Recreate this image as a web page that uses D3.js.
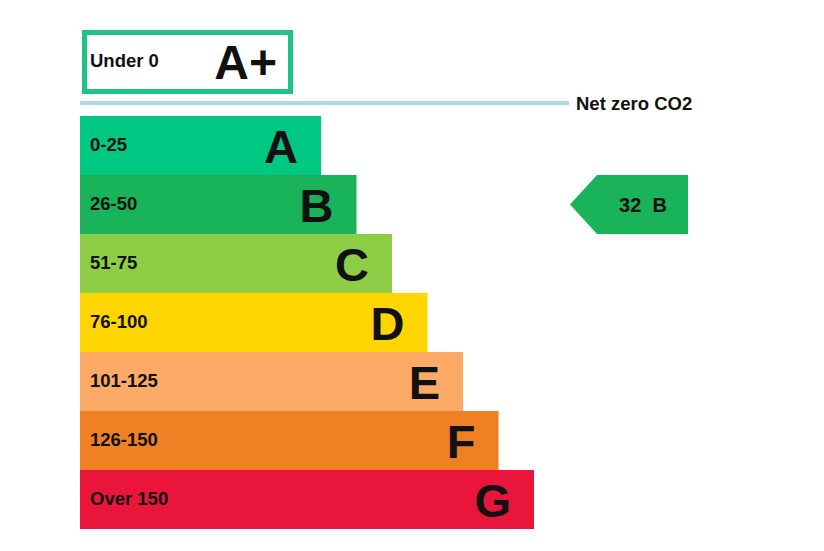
<!DOCTYPE html>
<html>
<head>
<meta charset="utf-8">
<script src="https://cdn.jsdelivr.net/npm/d3@7"></script>
<style>
  body { margin: 0; background: #fff; }
  text { font-family: "Liberation Sans", Arial, sans-serif; font-weight: bold; fill: #111; }
</style>
</head>
<body>
<div id="chart"></div>
<script>
const bands = ["A", "B", "C", "D", "E", "F", "G"];
const ranges = ["0-25", "26-50", "51-75", "76-100", "101-125", "126-150", "Over 150"];
const upper = [25, 50, 75, 100, 125, 150, 175];
const colors = ["#00c781", "#19b459", "#8dce46", "#ffd500", "#fcaa65", "#ef8023", "#e9153b"];
const current = { score: 32, band: "B" };
const netZero = { label: "Under 0", band: "A+", note: "Net zero CO2" };

const width = 824, height = 551;
const left = 80;

const svg = d3.select("#chart").append("svg")
  .attr("width", width)
  .attr("height", height);

const y = d3.scaleBand().domain(bands).range([116, 529]).padding(0);
const x = d3.scaleLinear().domain([0, 175]).range([285.5, 534]);

// A+ box
svg.append("rect")
  .attr("x", 84.5).attr("y", 32.5)
  .attr("width", 206).attr("height", 59)
  .attr("fill", "#fff")
  .attr("stroke", "#1fc383")
  .attr("stroke-width", 5);
svg.append("text")
  .attr("x", 90).attr("y", 67)
  .attr("font-size", 18.5)
  .text(netZero.label);
svg.append("text")
  .attr("x", 277).attr("y", 79)
  .attr("text-anchor", "end")
  .attr("font-size", 48)
  .text(netZero.band);

// net zero line
svg.append("line")
  .attr("x1", left).attr("x2", 569)
  .attr("y1", 103).attr("y2", 103)
  .attr("stroke", "#a9dbe0")
  .attr("stroke-width", 4);
svg.append("text")
  .attr("x", 576).attr("y", 109.5)
  .attr("font-size", 18.5)
  .text(netZero.note);

// bars
const g = svg.selectAll("g.band")
  .data(bands)
  .join("g")
  .attr("class", "band");

g.append("rect")
  .attr("x", left)
  .attr("y", d => y(d))
  .attr("width", (d, i) => x(upper[i]) - left)
  .attr("height", y.bandwidth())
  .attr("fill", (d, i) => colors[i]);

g.append("text")
  .attr("x", 90)
  .attr("y", d => y(d) + y.bandwidth() / 2 + 5)
  .attr("font-size", 18.5)
  .text((d, i) => ranges[i]);

g.append("text")
  .attr("x", (d, i) => x(upper[i]) - 23)
  .attr("y", d => y(d) + y.bandwidth() / 2 + 17)
  .attr("text-anchor", "end")
  .attr("font-size", 47)
  .text(d => d);

// current rating arrow
const ai = bands.indexOf(current.band);
const ay = y(current.band), ah = y.bandwidth();
const tipX = 570, bodyX = 597, endX = 688;
svg.append("path")
  .attr("d", `M${tipX},${ay + ah / 2} L${bodyX},${ay} L${endX},${ay} L${endX},${ay + ah} L${bodyX},${ay + ah} Z`)
  .attr("fill", colors[ai]);
svg.append("text")
  .attr("x", 643).attr("y", ay + ah / 2 + 7)
  .attr("text-anchor", "middle")
  .attr("font-size", 20)
  .attr("xml:space", "preserve")
  .style("white-space", "pre")
  .text(`${current.score}  ${current.band}`);
</script>
</body>
</html>
